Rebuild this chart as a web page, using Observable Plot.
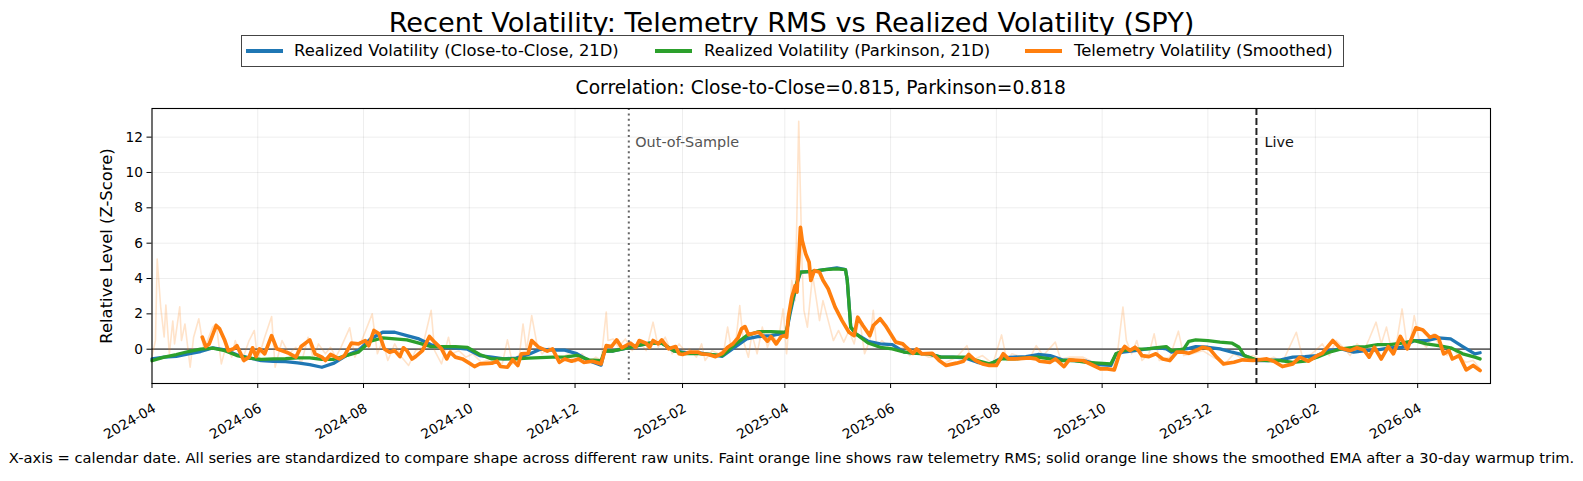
<!DOCTYPE html>
<html>
<head>
<meta charset="utf-8">
<script src="https://cdn.jsdelivr.net/npm/d3@7"></script>
<script src="https://cdn.jsdelivr.net/npm/@observablehq/plot@0.6"></script>
<style>
  html, body { margin:0; padding:0; background:#fff; }
  #fig { position:relative; width:1583px; height:481px; overflow:hidden; font-family:"DejaVu Sans", sans-serif; color:#000; }
  .t { position:absolute; white-space:nowrap; line-height:1; }
  #title { left:0; width:1583px; text-align:center; top:8.5px; font-size:27.2px; }
  #legend { position:absolute; left:241px; top:35px; width:1103px; height:32px; border:1px solid #444; box-sizing:border-box; background:#fff; }
  .sw { position:absolute; top:13px; height:4px; width:37px; }
  .lt { position:absolute; top:7px; font-size:16.4px; line-height:1; white-space:nowrap; }
  #sub { left:151.5px; width:1338.5px; text-align:center; top:79.2px; font-size:18.7px; }
  #chart { position:absolute; left:0; top:100px; }
  #caption { left:0; width:1583px; text-align:center; top:451px; font-size:14.7px; }
</style>
</head>
<body>
<div id="fig">
  <div id="title" class="t"></div>
  <div id="legend"></div>
  <div id="sub" class="t"></div>
  <div id="chart"></div>
  <div id="caption" class="t"></div>
</div>
<script>
// ---------------- data ----------------
const START = "2024-04-01"; // day 0 of the day offsets below

const titleText = "Recent Volatility: Telemetry RMS vs Realized Volatility (SPY)";
const subtitleText = "Correlation: Close-to-Close=0.815, Parkinson=0.818";
const captionText = "X-axis = calendar date. All series are standardized to compare shape across different raw units. Faint orange line shows raw telemetry RMS; solid orange line shows the smoothed EMA after a 30-day warmup trim.";
const yLabelText = "Relative Level (Z-Score)";
const seriesNames = ["Realized Volatility (Close-to-Close, 21D)", "Realized Volatility (Parkinson, 21D)", "Telemetry Volatility (Smoothed)"];
const seriesColors = ["#1f77b4", "#2ca02c", "#ff7f0e"];

// realized volatility series (shared day offsets)
const rvDays = [0,7,14,21,28,35,42,49,56,63,70,77,84,91,98,105,112,119,126,133,140,147,154,161,168,175,182,189,196,203,210,217,224,231,238,245,252,259,261,266,273,280,287,294,301,308,315,322,329,336,343,350,357,364,366,368,370,372,374,381,388,395,400,401,403,406,413,420,427,434,441,448,455,462,469,476,483,490,497,504,511,518,525,532,539,546,553,556,560,567,574,581,585,588,595,598,602,609,616,623,627,630,637,644,651,658,665,672,679,686,693,700,707,714,721,728,735,742,749,756,763,766];
const closeToClose = [-0.55,-0.45,-0.4,-0.26,-0.13,0.08,-0.04,-0.32,-0.49,-0.64,-0.68,-0.7,-0.77,-0.87,-1.02,-0.79,-0.36,-0.08,0.58,0.96,0.96,0.77,0.58,0.25,0.1,0.08,0.0,-0.36,-0.45,-0.55,-0.5,-0.3,0.0,-0.05,-0.05,-0.25,-0.65,-0.9,-0.1,-0.1,0.05,0.2,0.35,0.35,-0.1,-0.2,-0.2,-0.3,-0.4,0.1,0.58,0.72,0.77,0.9,1.0,2.0,2.9,3.7,4.36,4.4,4.5,4.6,4.5,3.9,1.25,0.87,0.45,0.3,0.26,-0.17,-0.23,-0.26,-0.45,-0.45,-0.49,-0.74,-0.87,-0.49,-0.45,-0.42,-0.3,-0.36,-0.6,-0.64,-0.68,-0.87,-0.92,-0.26,-0.17,-0.08,0.02,0.08,0.02,-0.17,0.0,0.05,0.15,0.11,0.02,-0.17,-0.26,-0.36,-0.64,-0.64,-0.6,-0.45,-0.42,-0.36,-0.08,0.02,-0.17,-0.08,-0.04,0.08,0.11,0.49,0.49,0.64,0.58,0.15,-0.26,-0.2];
const parkinson = [-0.65,-0.45,-0.3,-0.13,0.0,0.06,-0.08,-0.36,-0.51,-0.58,-0.55,-0.53,-0.49,-0.49,-0.57,-0.57,-0.36,-0.17,0.45,0.64,0.58,0.53,0.34,0.15,0.15,0.15,0.1,-0.3,-0.55,-0.55,-0.55,-0.5,-0.48,-0.45,-0.45,-0.35,-0.6,-0.65,-0.1,-0.1,0.05,0.2,0.35,0.35,-0.1,-0.25,-0.25,-0.3,-0.36,0.25,0.77,1.0,1.0,0.96,1.0,2.2,3.0,3.8,4.36,4.4,4.5,4.55,4.5,3.9,1.25,0.87,0.35,0.11,0.02,-0.17,-0.23,-0.26,-0.45,-0.45,-0.45,-0.64,-0.83,-0.55,-0.55,-0.49,-0.45,-0.55,-0.64,-0.64,-0.74,-0.79,-0.83,-0.26,-0.08,0.0,0.02,0.11,0.15,-0.08,0.0,0.45,0.53,0.49,0.4,0.34,0.11,-0.36,-0.6,-0.64,-0.64,-0.74,-0.68,-0.45,-0.17,0.02,0.11,0.15,0.26,0.26,0.34,0.49,0.3,0.2,0.08,-0.26,-0.45,-0.55];

// telemetry EMA (after 30-day warmup trim)
const emaDays = [29,31,33,37,39,42,44,47,49,53,56,58,60,62,65,69,72,79,83,86,91,94,98,100,103,108,111,115,119,123,125,128,131,134,137,140,143,145,147,150,152,156,160,163,167,170,172,175,179,183,186,189,196,199,201,205,208,211,213,217,219,223,228,231,235,238,242,246,249,254,259,262,265,268,271,276,279,281,285,287,289,292,294,298,302,304,306,310,315,317,321,325,329,332,335,338,340,342,344,347,350,352,355,357,360,363,365,366,367,369,371,372,374,375,377,379,380,382,385,387,390,394,398,402,405,407,410,414,416,420,423,429,433,435,439,441,444,450,454,458,460,464,468,471,475,479,483,487,491,494,498,506,510,512,518,521,526,529,537,543,547,551,555,558,561,564,567,569,571,575,579,583,587,591,595,598,602,606,610,614,618,624,629,635,643,647,652,658,662,667,672,675,681,685,691,695,699,702,705,709,713,716,720,724,729,733,737,740,742,745,748,750,754,758,762,766];
const telemetrySmoothed = [0.68,0.15,0.3,1.34,1.15,0.49,-0.08,0.02,0.2,-0.64,-0.45,0.08,-0.42,0.02,-0.26,0.77,0.02,-0.23,-0.45,0.15,0.53,-0.26,-0.45,-0.64,-0.3,-0.55,-0.36,0.34,0.3,0.49,0.2,1.06,0.87,0.02,-0.17,-0.08,-0.42,0.08,-0.08,-0.55,-0.42,-0.08,0.72,0.4,0.02,-0.55,-0.17,-0.45,-0.55,-0.79,-0.98,-0.83,-0.79,-0.68,-0.98,-1.02,-0.6,-0.92,-0.26,-0.23,0.49,0.11,-0.11,0.02,-0.74,-0.55,-0.68,-0.55,-0.74,-0.68,-0.83,0.2,0.15,0.53,0.08,0.34,0.11,0.49,0.34,0.11,0.49,0.3,0.53,0.02,0.15,-0.26,-0.3,-0.17,-0.17,-0.26,-0.3,-0.42,-0.23,0.11,0.3,0.64,1.15,1.28,0.83,0.9,0.96,0.77,0.45,0.72,0.3,0.72,0.77,0.68,1.81,2.94,3.6,3.23,6.9,6.15,5.4,4.92,3.89,4.45,4.36,3.9,3.42,2.38,1.62,0.96,0.77,1.81,1.34,0.77,1.34,1.72,1.34,0.4,0.3,0.11,-0.23,0.02,-0.26,-0.23,-0.64,-0.92,-0.87,-0.79,-0.68,-0.3,-0.64,-0.83,-0.92,-0.92,-0.26,-0.55,-0.55,-0.49,-0.55,-0.68,-0.74,-0.55,-0.98,-0.6,-0.64,-0.92,-1.11,-1.11,-1.17,-0.26,0.15,-0.08,0.11,-0.08,-0.36,-0.42,-0.26,-0.55,-0.64,-0.17,-0.17,-0.23,-0.08,0.11,0.02,-0.45,-0.83,-0.74,-0.6,-0.64,-0.55,-0.68,-0.98,-0.83,-0.45,-0.68,-0.36,-0.23,0.49,0.08,-0.08,0.08,-0.04,-0.45,0.11,-0.55,0.15,-0.26,0.72,0.02,1.21,1.09,0.68,0.77,0.64,-0.26,-0.08,-0.55,-0.36,-1.17,-0.92,-1.2];

// raw telemetry RMS (faint line)
const rawDays = [0,2,3,5,7,8,10,12,13,16,17,19,22,24,27,30,32,35,37,40,43,46,48,52,56,59,61,65,69,71,75,79,83,86,90,93,96,100,103,106,109,114,117,121,127,130,133,136,140,144,148,152,156,161,163,167,171,173,177,181,185,190,196,202,205,208,212,214,216,219,222,225,229,233,237,240,244,248,252,256,259,262,263,266,269,273,277,281,285,289,292,296,300,304,308,310,314,317,319,323,327,330,332,334,337,339,341,344,346,349,352,355,358,361,364,366,367,369,371,373,375,376,378,381,383,385,387,389,391,393,396,399,402,405,408,411,414,416,418,421,425,429,433,437,441,444,448,452,456,460,464,470,473,479,485,490,493,496,502,507,510,514,521,524,529,537,543,548,554,557,560,562,565,568,571,575,578,581,587,592,595,600,606,612,616,618,624,629,635,641,647,652,660,664,670,675,679,683,687,691,695,699,702,706,709,712,715,718,721,724,726,728,731,735,739,743,747,750,754,758,762,766];
const telemetryRaw = [-0.4,0.5,5.1,2.4,0.7,2.5,-0.26,1.6,0.3,2.4,0.49,1.43,-1.02,0.68,1.72,-0.08,0.49,1.25,1.43,-0.83,0.3,-0.45,0.49,-0.64,0.49,1.06,-0.64,0.68,1.85,-1.02,0.49,-0.26,0.11,-0.83,0.68,-0.55,0.3,-0.26,0.11,-0.45,0.11,1.21,-0.45,0.49,2.0,-0.26,0.49,-0.64,0.3,-0.45,-0.92,-0.08,0.11,2.2,-0.08,-0.83,0.68,-0.26,-0.08,-0.45,-0.26,-0.74,-0.55,-0.83,0.53,-0.83,-0.26,1.43,-0.08,1.9,0.3,-0.26,0.11,-0.36,-0.45,-0.26,-0.74,-0.26,-0.74,-0.45,-0.64,2.1,0.49,0.58,0.11,0.58,-0.08,0.49,-0.08,1.53,0.11,0.68,-0.26,0.3,-0.17,0.02,-0.45,0.3,-0.64,-0.08,-0.26,0.02,1.25,0.11,0.68,2.47,0.49,-0.45,0.87,-0.26,1.25,0.11,0.87,0.3,2.28,-0.26,0.87,3.9,2.75,12.9,4.6,2.2,1.25,4.2,2.94,1.62,2.75,2.0,1.25,0.49,1.06,0.4,1.06,0.3,1.81,-0.26,0.49,2.2,0.11,0.49,0.11,-0.08,0.11,-0.36,0.02,-0.26,-0.45,-0.45,-0.83,-0.64,-0.45,0.2,-0.64,-0.36,-0.83,0.81,-0.64,-0.26,-0.45,-0.36,0.2,-0.36,0.4,-0.55,-0.45,-0.45,-0.74,-0.83,-0.92,-0.08,2.38,0.49,-0.26,0.49,-0.64,-0.26,0.87,-0.64,-0.45,1.02,-0.36,-0.26,-0.08,-0.45,-0.64,-0.92,-0.26,-0.55,-0.36,-0.64,-0.45,-0.74,0.96,-0.64,-0.17,0.3,-0.36,0.49,0.11,-0.36,0.3,-0.08,0.58,1.53,0.3,1.25,-0.08,0.49,2.28,0.11,0.58,1.9,0.49,0.11,0.87,0.11,-0.36,0.11,-0.45,-0.74,-0.64,-1.11];

const xTickLabels = ["2024-04","2024-06","2024-08","2024-10","2024-12","2025-02","2025-04","2025-06","2025-08","2025-10","2025-12","2026-02","2026-04"];
const yTicks = [0, 2, 4, 6, 8, 10, 12];
const markerDates = ["2025-01-01", "2025-12-29"];
const markerLabels = ["Out-of-Sample", "Live"];
const markerLabelY = 11.68;
const xDomainDates = ["2024-04-01", "2026-05-13"];
const yDomain = [-1.94, 13.62];

// ---------------- build ----------------
const parseDay = d3.utcParse("%Y-%m-%d");
const parseMonth = d3.utcParse("%Y-%m");
const base = parseDay(START);
const toDate = d => d3.utcDay.offset(base, d);

const rv = rvDays.map((d, i) => ({date: toDate(d), c2c: closeToClose[i], park: parkinson[i]}));
const ema = emaDays.map((d, i) => ({date: toDate(d), v: telemetrySmoothed[i]}));
const raw = rawDays.map((d, i) => ({date: toDate(d), v: telemetryRaw[i]}));
const xTicks = xTickLabels.map(parseMonth);
const markers = markerDates.map((d, i) => ({date: parseDay(d), label: markerLabels[i], y: markerLabelY}));

document.getElementById("title").textContent = titleText;
document.getElementById("sub").textContent = subtitleText;
document.getElementById("caption").textContent = captionText;

const legend = document.getElementById("legend");
const swatchLeft = [4, 413, 783];
const textLeft = [52, 462, 832];
seriesNames.forEach((name, i) => {
  const sw = document.createElement("div");
  sw.className = "sw";
  sw.style.left = swatchLeft[i] + "px";
  sw.style.background = seriesColors[i];
  legend.appendChild(sw);
  const tx = document.createElement("div");
  tx.className = "lt";
  tx.style.left = textLeft[i] + "px";
  tx.textContent = name;
  legend.appendChild(tx);
});

const chart = Plot.plot({
  width: 1583,
  height: 345,
  marginLeft: 151.5,
  marginRight: 93,
  marginTop: 8,
  marginBottom: 62,
  style: {fontFamily: "DejaVu Sans, sans-serif", fontSize: "13.7px", color: "#000", background: "transparent", overflow: "visible"},
  x: {type: "utc", domain: xDomainDates.map(parseDay)},
  y: {domain: yDomain},
  marks: [
    Plot.gridX(xTicks, {stroke: "#000", strokeOpacity: 0.07, strokeWidth: 1}),
    Plot.gridY(yTicks, {stroke: "#000", strokeOpacity: 0.07, strokeWidth: 1}),
    Plot.ruleY([0], {stroke: "#666", strokeWidth: 1.7}),
    Plot.line(raw, {x: "date", y: "v", stroke: seriesColors[2], strokeOpacity: 0.22, strokeWidth: 1.6}),
    Plot.line(rv, {x: "date", y: "c2c", stroke: seriesColors[0], strokeWidth: 3.3, strokeLinejoin: "round"}),
    Plot.line(rv, {x: "date", y: "park", stroke: seriesColors[1], strokeWidth: 3.3, strokeLinejoin: "round"}),
    Plot.line(ema, {x: "date", y: "v", stroke: seriesColors[2], strokeWidth: 3.7, strokeLinejoin: "round"}),
    Plot.ruleX([markers[0]], {x: "date", stroke: "#666", strokeWidth: 2, strokeDasharray: "2,3.4"}),
    Plot.ruleX([markers[1]], {x: "date", stroke: "#222", strokeWidth: 2, strokeDasharray: "7,3"}),
    Plot.text([markers[0]], {x: "date", y: "y", text: "label", textAnchor: "start", dx: 6.5, fontSize: 14.4, fill: "#555"}),
    Plot.text([markers[1]], {x: "date", y: "y", text: "label", textAnchor: "start", dx: 8, fontSize: 14.4, fill: "#111"}),
    Plot.text([yLabelText], {frameAnchor: "left", text: d => d, rotate: -90, textAnchor: "middle", dx: -45.5, fontSize: 16.4, fill: "#000"}),
    Plot.frame({stroke: "#000", strokeWidth: 1.1}),
    Plot.axisX(xTicks, {anchor: "bottom", tickFormat: d3.utcFormat("%Y-%m"), tickRotate: -30, tickSize: 5, tickPadding: 14, textAnchor: "end", lineAnchor: "top", fontSize: 13.7, label: null}),
    Plot.axisY(yTicks, {anchor: "left", tickSize: 5, tickPadding: 4, fontSize: 13.7, label: null})
  ]
});
document.getElementById("chart").appendChild(chart);
</script>
</body>
</html>
